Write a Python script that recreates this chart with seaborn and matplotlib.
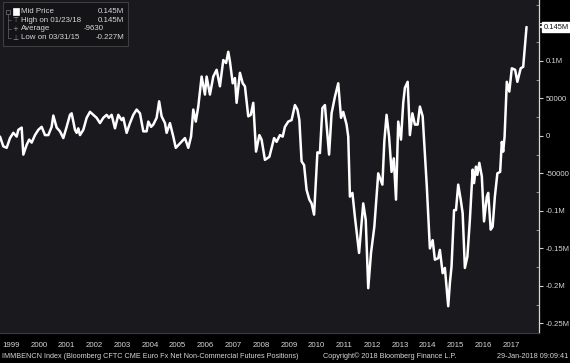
import matplotlib
matplotlib.use("Agg")
import matplotlib.pyplot as plt
import matplotlib.ticker as mticker
from matplotlib.patches import Rectangle
from matplotlib.lines import Line2D
import seaborn as sns
import pandas as pd

# ---- data (decimal year, net positions in contracts) ----
years = [1999.10, 1999.22, 1999.34, 1999.46, 1999.58, 1999.70, 1999.76, 1999.88, 1999.94,
         2000.06, 2000.15, 2000.24, 2000.36, 2000.48, 2000.60, 2000.72, 2000.84, 2000.96,
         2001.02, 2001.14, 2001.26, 2001.38, 2001.50, 2001.62, 2001.68, 2001.80, 2001.86, 2001.92, 2001.98,
         2002.10, 2002.22, 2002.34, 2002.46, 2002.58, 2002.70, 2002.82, 2002.94,
         2003.02, 2003.12, 2003.24, 2003.36, 2003.48, 2003.54, 2003.66, 2003.78, 2003.90,
         2004.02, 2004.14, 2004.26, 2004.38, 2004.44, 2004.54, 2004.62, 2004.74, 2004.83, 2004.92,
         2005.04, 2005.10, 2005.22, 2005.34, 2005.43, 2005.58, 2005.76, 2005.88, 2005.98,
         2006.06, 2006.15, 2006.24, 2006.36, 2006.48, 2006.54, 2006.66, 2006.78, 2006.90,
         2007.02, 2007.14, 2007.24, 2007.32, 2007.38, 2007.48, 2007.56, 2007.62, 2007.74, 2007.84, 2007.92,
         2008.04, 2008.13, 2008.22, 2008.32, 2008.44, 2008.52, 2008.64, 2008.80, 2008.97,
         2009.06, 2009.18, 2009.28, 2009.36, 2009.48, 2009.60, 2009.72, 2009.81, 2009.88, 2009.96,
         2010.05, 2010.14, 2010.24, 2010.32, 2010.41, 2010.53, 2010.62, 2010.71, 2010.80, 2010.95,
         2011.04, 2011.16, 2011.28, 2011.38, 2011.46, 2011.58, 2011.64, 2011.70, 2011.79, 2011.88,
         2012.03, 2012.18, 2012.27, 2012.36, 2012.46, 2012.58, 2012.72, 2012.87, 2012.94,
         2013.02, 2013.11, 2013.20, 2013.28, 2013.36, 2013.44, 2013.54, 2013.62, 2013.68, 2013.78, 2013.86, 2013.95,
         2014.04, 2014.14, 2014.22, 2014.32, 2014.47, 2014.58, 2014.68, 2014.76, 2014.88, 2014.94,
         2015.04, 2015.12, 2015.24, 2015.30, 2015.36, 2015.45, 2015.52, 2015.60, 2015.69, 2015.76, 2015.84, 2015.93,
         2016.02, 2016.12, 2016.17, 2016.24, 2016.29, 2016.36, 2016.45, 2016.53, 2016.63, 2016.68, 2016.77, 2016.84, 2016.92,
         2017.01, 2017.11, 2017.17, 2017.22, 2017.27, 2017.35, 2017.44, 2017.53, 2017.65, 2017.73, 2017.85, 2017.94,
         2018.06]

values_k = [-1, -14, -16, -3, 4, -1, 8, 11, -25,
            -12, -5, -9, 1, 8, 12, 1, 1, 12,
            27, 11, 6, -3, 12, 28, 30, 8, 4, 10, 1,
            8, 24, 32, 28, 24, 17, 24, 28,
            24, 28, 10, 28, 21, 24, 4, 17, 28,
            35, 30, 6, 6, 19, 12, 15, 24, 46, 26,
            17, 4, 17, -1, -16, -10, -3, -16, -1,
            35, 19, 39, 79, 55, 79, 55, 79, 88,
            66, 101, 97, 112, 99, 70, 77, 44, 84, 70, 66,
            26, 28, 44, -21, 1, -5, -32, -28, -3,
            -8, 1, -1, 12, 19, 21, 41, 35, 21, -34,
            -39, -72, -85, -90, -105, -22, -23, 37, 41, -25,
            30, 52, 70, 24, 32, 15, -1, -81, -76, -108,
            -156, -90, -112, -203, -156, -121, -50, -65, -7,
            28, -1, -48, -30, -85, 19, -5, 44, 64, 72, 1, 30,
            15, 15, 39, 26, -68, -150, -139, -165, -163, -152,
            -183, -176, -227, -196, -174, -99, -99, -65, -85, -103, -176, -161,
            -112, -45, -63, -41, -52, -36, -54, -114, -81, -76, -125, -121, -81,
            -50, -48, -8, -21, -1, 72, 59, 90, 88, 72, 90, 92,
            145]

year_labels = [str(y) for y in range(1999, 2018)]
ytick_values = [-250000, -200000, -150000, -100000, -50000, 0, 50000, 100000, 150000]

legend_rows = [("Mid Price", "0.145M"),
               ("High on 01/23/18", "0.145M"),
               ("Average", "-9630"),
               ("Low on 03/31/15", "-0.227M")]

title_text = "IMMBENCN Index (Bloomberg CFTC CME Euro Fx Net Non-Commercial Futures Positions)"
copyright_text = "Copyright\u00a9 2018 Bloomberg Finance L.P."
stamp_text = "29-Jan-2018 09:09:41"

df = pd.DataFrame({"year": years, "value": [v * 1000 for v in values_k]})

# ---- style ----
sns.set_theme(style="dark")
FONT = ["Liberation Sans", "DejaVu Sans"]
plt.rcParams["font.family"] = FONT
TXT = "#d6d6d6"

W, H = 570, 363
fig = plt.figure(figsize=(W / 100, H / 100), dpi=100, facecolor="black")


def px(x):
    return x / W


def py(y):
    return 1 - y / H


ax = fig.add_axes([0, 1 - 333 / H, 539.3 / W, 333 / H])
ax.set_facecolor("#1a1a1e")

sns.lineplot(data=df, x="year", y="value", ax=ax, color="white", linewidth=1.8, zorder=3)

ax.set_xlim(1999.1, 2018.52)
ax.set_ylim(-262700, 181000)
ax.set_xlabel("")
ax.set_ylabel("")
ax.grid(False)


def fmt(v, pos):
    if v == 0:
        return "0"
    if abs(v) == 50000:
        return f"{int(v)}"
    if v >= 150000:
        return ""  # hidden under the last-value box
    return f"{v / 1e6:g}M"


ax.yaxis.tick_right()
ax.set_yticks(ytick_values)
ax.yaxis.set_major_formatter(mticker.FuncFormatter(fmt))
ax.yaxis.set_minor_locator(mticker.MultipleLocator(25000))
ax.tick_params(axis="y", which="major", direction="out", length=3, width=0.8,
               color="#d0d0d0", labelcolor=TXT, labelsize=5.6, pad=1.8)
ax.tick_params(axis="y", which="minor", direction="in", length=2, width=0.6, color="#a0a0a0")

ax.set_xticks([y + 0.5 for y in range(1999, 2018)])
ax.set_xticklabels(year_labels)
ax.set_xticks(list(range(2000, 2019)), minor=True)
ax.tick_params(axis="x", which="major", length=0, labelcolor=TXT, labelsize=5.7, pad=6.5)
ax.tick_params(axis="x", which="minor", direction="out", length=13, width=0.8, color="#6a6a6a")

for s in ["top", "left"]:
    ax.spines[s].set_visible(False)
ax.spines["right"].set_color("#d8d8d8")
ax.spines["right"].set_linewidth(0.9)
ax.spines["bottom"].set_color("#3c3c40")
ax.spines["bottom"].set_linewidth(0.8)

# last value marker box
last = df["value"].iloc[-1]
ax.annotate(f"{last / 1e6:.3f}M", xy=(1, last), xycoords=("axes fraction", "data"),
            xytext=(3.2, 0), textcoords="offset points", va="center", ha="left",
            fontsize=5.4, color="#111111", zorder=10, annotation_clip=False,
            bbox=dict(boxstyle="square,pad=0.18", fc="white", ec="white"))
ax.annotate("", xy=(1, last), xycoords=("axes fraction", "data"),
            xytext=(3.2, 0), textcoords="offset points",
            arrowprops=dict(arrowstyle="-|>", color="white", lw=0.6, mutation_scale=5),
            annotation_clip=False)

# legend box
fig.patches.append(Rectangle((px(3), py(46)), px(125), 44 / H, transform=fig.transFigure,
                             fc="#141417", ec="#3e3e42", lw=0.8, zorder=5))
row_y = [11.5, 20.2, 29.0, 37.8]
val_x = [124, 124, 104, 124]
for (lab, val), ry, vx in zip(legend_rows, row_y, val_x):
    fig.text(px(21), py(ry), lab, color=TXT, fontsize=5.7, va="center", ha="left", zorder=6)
    fig.text(px(vx), py(ry), val, color=TXT, fontsize=5.7, va="center", ha="right", zorder=6)
# tree glyphs
fig.patches.append(Rectangle((px(12.5), py(14.5)), px(6), 6 / H, transform=fig.transFigure,
                             fc="white", ec="white", lw=0.5, zorder=6))
fig.patches.append(Rectangle((px(6), py(13.5)), px(4), 4 / H, transform=fig.transFigure,
                             fc="none", ec="#777777", lw=0.5, zorder=6))
fig.lines.append(Line2D([px(8), px(8)], [py(13.5), py(38)], transform=fig.transFigure,
                        color="#666666", lw=0.5, zorder=6))
for ry in row_y[1:]:
    fig.lines.append(Line2D([px(8), px(11)], [py(ry), py(ry)], transform=fig.transFigure,
                            color="#666666", lw=0.5, zorder=6))
for ry, g in zip(row_y[1:], ["\u22a4", "+", "\u22a5"]):
    fig.text(px(15.5), py(ry), g, color="#9a9a9a", fontsize=5, va="center", ha="center",
             family="DejaVu Sans", zorder=6)

# footer
fig.text(px(2), py(356), title_text, color=TXT, fontsize=5.25, va="center", ha="left")
fig.text(px(323), py(356), copyright_text, color=TXT, fontsize=5.25, va="center", ha="left")
fig.text(px(568), py(356), stamp_text, color=TXT, fontsize=5.25, va="center", ha="right")

fig.savefig("out.png", dpi=100, facecolor="black")
